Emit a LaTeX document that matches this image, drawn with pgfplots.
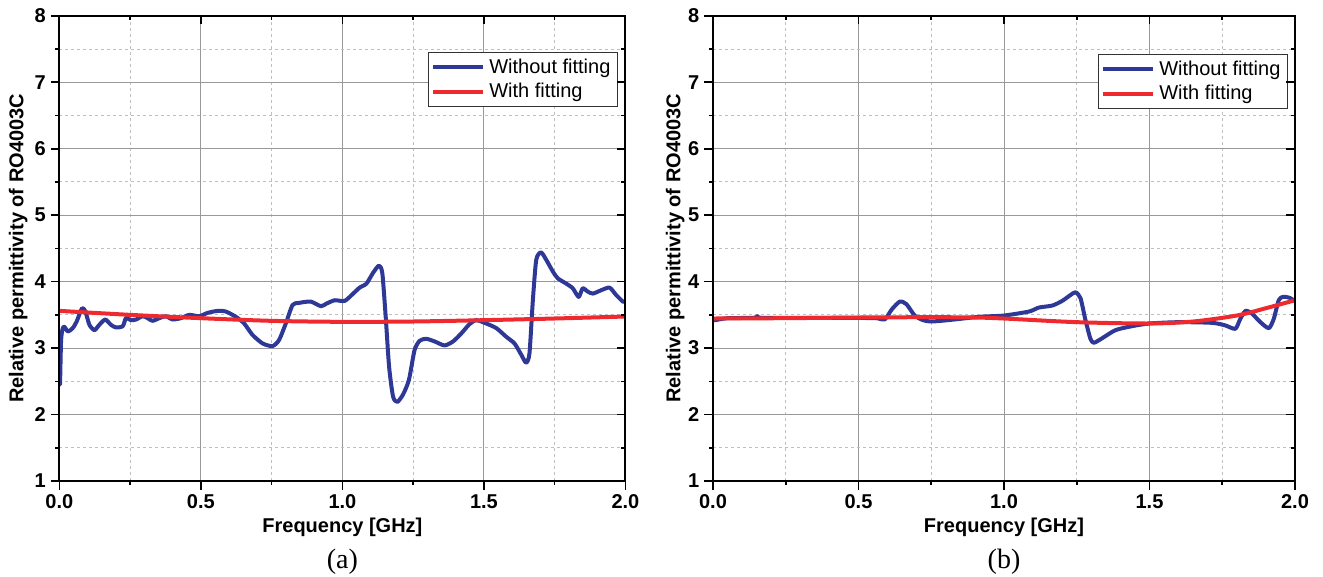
\documentclass[border=0pt]{standalone}
\usepackage{pgfplots}
\pgfplotsset{compat=1.18}
\usepackage{fontspec}
\setmainfont{Liberation Sans}
\newfontfamily\captionfont{Liberation Serif}
\definecolor{myblue}{RGB}{46,56,150}
\definecolor{myred}{RGB}{238,42,46}
\pgfplotsset{
 mybase/.style={
  scale only axis, height=232.6pt,
  xmin=0, xmax=2, ymin=1, ymax=8,
  xtick={0,0.5,1,1.5,2}, ytick={1,2,3,4,5,6,7,8},
  minor x tick num=1, minor y tick num=1,
  axis line style={line width=1pt},
  tick style={black, line width=0.8pt},
  major tick length=4.3pt, minor tick length=2pt,
 },
 myax/.style={mybase,
  grid=both,
  major grid style={draw=black!40, line width=0.5pt},
  minor grid style={draw=black!25, line width=0.45pt, dash pattern=on 1.5pt off 1.5pt},
  tick align=outside, xtick pos=left, ytick pos=left,
  tick label style={font=\bfseries},
  /pgf/number format/assume math mode=true,
  x tick label style={yshift=1pt, /pgf/number format/fixed, /pgf/number format/fixed zerofill, /pgf/number format/precision=1},
  y tick label style={xshift=1pt},
  xlabel={Frequency [GHz]},
  ylabel={Relative permittivity of RO4003C},
  label style={font=\bfseries},
  xlabel style={at={(axis description cs:0.5,-0.099)}, anchor=center},
  legend cell align=left,
  legend image code/.code={\draw[#1] (0pt,0pt) -- (25pt,0pt);},
  legend style={anchor=north east, draw=black!80, line width=0.6pt, font=\normalsize, inner xsep=1.5pt, inner ysep=1pt, row sep=-0.5pt},
  every axis plot/.append style={line width=2pt, line join=round},
 },
 myover/.style={mybase, tick align=inside, xtick pos=right, ytick pos=right,
  xticklabels={}, yticklabels={}},
}
\begin{document}
\begin{tikzpicture}
\useasboundingbox (-29.7pt,-48pt) rectangle (631.8pt,240.5pt);
\begin{axis}[myax, width=283pt, at={(0pt,0pt)}, anchor=south west,
  ylabel style={at={(axis description cs:-0.073,0.5)}, anchor=center},
  legend style={at={(0.987,0.922)}}]
\addplot[myblue, smooth, tension=0.4] coordinates {
(0.000,3.05) (0.002,2.45) (0.006,3.12) (0.012,3.30) (0.018,3.32) (0.030,3.25) (0.047,3.30) (0.061,3.40)
(0.080,3.60) (0.092,3.55) (0.106,3.35) (0.124,3.27) (0.141,3.35) (0.162,3.43) (0.182,3.35) (0.200,3.31)
(0.224,3.33) (0.235,3.45) (0.253,3.42) (0.271,3.43) (0.294,3.48) (0.312,3.45) (0.329,3.41) (0.353,3.45)
(0.376,3.48) (0.400,3.43) (0.429,3.45) (0.459,3.50) (0.494,3.48) (0.524,3.53) (0.559,3.56) (0.588,3.55)
(0.624,3.47) (0.653,3.37) (0.682,3.20) (0.718,3.07) (0.753,3.03) (0.776,3.12) (0.800,3.37) (0.824,3.65)
(0.847,3.68) (0.888,3.70) (0.924,3.63) (0.944,3.67) (0.973,3.72) (1.008,3.71) (1.038,3.82) (1.061,3.91)
(1.085,3.97) (1.108,4.13) (1.129,4.24) (1.141,4.13) (1.153,3.47) (1.165,2.72) (1.179,2.27) (1.194,2.19)
(1.214,2.30) (1.235,2.52) (1.255,2.97) (1.273,3.11) (1.296,3.14) (1.326,3.10) (1.361,3.04) (1.391,3.10)
(1.420,3.22) (1.449,3.36) (1.473,3.42) (1.508,3.37) (1.544,3.30) (1.579,3.17) (1.608,3.07) (1.632,2.90)
(1.649,2.78) (1.661,2.92) (1.673,3.72) (1.685,4.33) (1.702,4.44) (1.720,4.33) (1.744,4.15) (1.761,4.05)
(1.791,3.97) (1.814,3.90) (1.835,3.77) (1.849,3.90) (1.867,3.85) (1.885,3.82) (1.914,3.87) (1.944,3.91)
(1.967,3.80) (1.991,3.70) (2.000,3.70)};
\addlegendentry{Without fitting}
\addplot[myred, smooth] coordinates {
(0,3.56) (0.25,3.50) (0.5,3.45) (0.75,3.41) (1.0,3.395) (1.25,3.40) (1.5,3.42) (1.75,3.445) (2.0,3.475)};
\addlegendentry{With fitting}
\end{axis}
\begin{axis}[myover, width=283pt, at={(0pt,0pt)}, anchor=south west]
\end{axis}
\begin{axis}[myax, width=291pt, at={(326.8pt,0pt)}, anchor=south west,
  ylabel style={at={(axis description cs:-0.065,0.5)}, anchor=center},
  legend style={at={(0.988,0.918)}}]
\addplot[myblue, smooth, tension=0.4] coordinates {
(0.000,3.44) (0.006,3.42) (0.050,3.45) (0.140,3.455) (0.153,3.48) (0.166,3.455) (0.300,3.455) (0.450,3.455)
(0.560,3.45) (0.590,3.43) (0.614,3.58) (0.642,3.70) (0.665,3.66) (0.693,3.49) (0.722,3.42) (0.750,3.40)
(0.807,3.42) (0.914,3.47) (1.000,3.49) (1.086,3.55) (1.120,3.61) (1.166,3.64) (1.200,3.71) (1.229,3.80)
(1.246,3.84) (1.263,3.75) (1.280,3.42) (1.297,3.14) (1.309,3.08) (1.338,3.15) (1.383,3.27) (1.440,3.33)
(1.500,3.37) (1.600,3.39) (1.715,3.38) (1.761,3.34) (1.795,3.29) (1.812,3.44) (1.830,3.56) (1.852,3.52)
(1.881,3.39) (1.910,3.30) (1.927,3.44) (1.944,3.72) (1.958,3.77) (1.979,3.76) (2.000,3.71)};
\addlegendentry{Without fitting}
\addplot[myred, smooth] coordinates {
(0,3.445) (0.25,3.45) (0.5,3.46) (0.75,3.465) (0.9,3.46) (1.0,3.445) (1.25,3.39) (1.5,3.37) (1.65,3.40) (1.8,3.49) (1.9,3.60) (2.0,3.72)};
\addlegendentry{With fitting}
\end{axis}
\begin{axis}[myover, width=291pt, at={(326.8pt,0pt)}, anchor=south west]
\end{axis}
\node[font=\captionfont\fontsize{14}{14}\selectfont] at (141.5pt,-40.5pt) {(a)};
\node[font=\captionfont\fontsize{14}{14}\selectfont] at (472.3pt,-40.5pt) {(b)};
\end{tikzpicture}
\end{document}
